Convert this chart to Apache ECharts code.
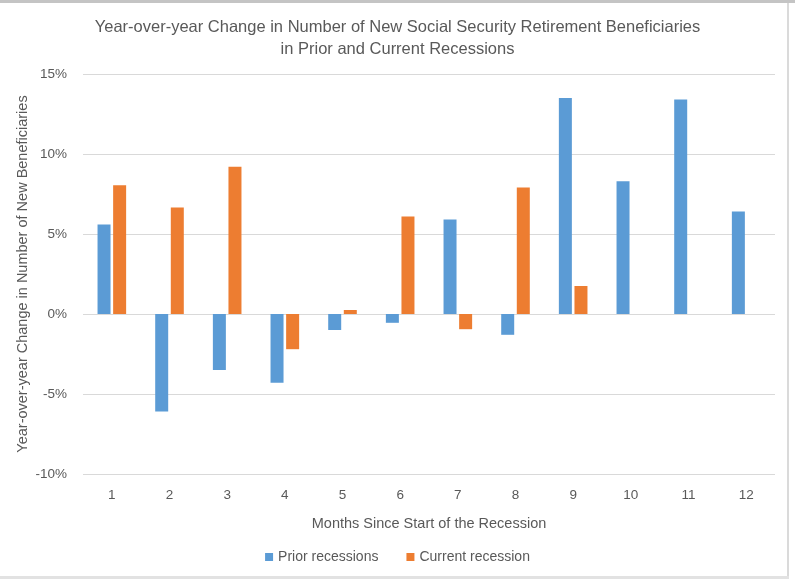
<!DOCTYPE html>
<html>
<head>
<meta charset="utf-8">
<script src="https://cdn.jsdelivr.net/npm/echarts@6/dist/echarts.min.js"></script>
<style>
  html, body { margin: 0; padding: 0; background: #fff; }
  #wrap { position: relative; width: 795px; height: 580px; overflow: hidden; }
  #chart { position: absolute; left: 0; top: 0; width: 795px; height: 580px; }
  .b-top { position: absolute; left: 0; top: 0; width: 795px; height: 3px; background: #c4c4c4; }
  .b-right { position: absolute; left: 787px; top: 3px; width: 2px; height: 575px; background: #dadada; }
  .b-bottom { position: absolute; left: 0; top: 576px; width: 789px; height: 3px; background: #e2e2e2; }
</style>
</head>
<body>
<div id="wrap">
  <div id="chart"></div>
  <div class="b-top"></div>
  <div class="b-right"></div>
  <div class="b-bottom"></div>
</div>
<script>
const titleText = 'Year-over-year Change in Number of New Social Security Retirement Beneficiaries\nin Prior and Current Recessions';
const categories = ['1','2','3','4','5','6','7','8','9','10','11','12'];
const priorRecessions = [5.6, -6.1, -3.5, -4.3, -1.0, -0.55, 5.9, -1.3, 13.5, 8.3, 13.4, 6.4];
const currentRecession = [8.05, 6.65, 9.2, -2.2, 0.25, 6.1, -0.95, 7.9, 1.75, null, null, null];
const seriesNames = ['Prior recessions', 'Current recession'];
const xAxisName = 'Months Since Start of the Recession';
const yAxisName = 'Year-over-year Change in Number of New Beneficiaries';

const FONT = '"Liberation Sans", Arial, sans-serif';
const TXT = '#595959';

const chart = echarts.init(document.getElementById('chart'), null, { renderer: 'canvas' });
chart.setOption({
  animation: false,
  textStyle: { fontFamily: FONT },
  title: {
    text: titleText,
    left: 'center',
    top: 11,
    textStyle: { fontFamily: FONT, fontSize: 16.5, fontWeight: 'normal', color: TXT, lineHeight: 22 }
  },
  legend: {
    data: seriesNames,
    bottom: 11,
    left: 'center',
    itemWidth: 8,
    itemHeight: 8,
    itemGap: 28,
    icon: 'rect',
    textStyle: { fontFamily: FONT, fontSize: 14, color: TXT }
  },
  grid: { left: 83, right: 20, top: 74, bottom: 106, containLabel: false },
  xAxis: {
    type: 'category',
    data: categories,
    name: xAxisName,
    nameLocation: 'middle',
    nameGap: 42,
    nameMoveOverlap: false,
    nameTextStyle: { fontFamily: FONT, fontSize: 14.5, color: TXT },
    axisLine: { show: false },
    axisTick: { show: false },
    axisLabel: { fontFamily: FONT, fontSize: 13.5, color: TXT, margin: 14 }
  },
  yAxis: {
    type: 'value',
    min: -10,
    max: 15,
    interval: 5,
    name: yAxisName,
    nameLocation: 'middle',
    nameGap: 53,
    nameRotate: 90,
    nameMoveOverlap: false,
    nameTextStyle: { fontFamily: FONT, fontSize: 14.5, color: TXT },
    axisLine: { show: false },
    axisTick: { show: false },
    axisLabel: { formatter: '{value}%', fontFamily: FONT, fontSize: 13.5, color: TXT, margin: 16 },
    splitLine: { lineStyle: { color: '#d9d9d9', width: 1 } }
  },
  series: [
    {
      name: seriesNames[0],
      type: 'bar',
      data: priorRecessions,
      barWidth: 13,
      barGap: '20%',
      itemStyle: { color: '#5b9bd5' }
    },
    {
      name: seriesNames[1],
      type: 'bar',
      data: currentRecession,
      barWidth: 13,
      barGap: '20%',
      itemStyle: { color: '#ed7d31' }
    }
  ]
});
</script>
</body>
</html>
